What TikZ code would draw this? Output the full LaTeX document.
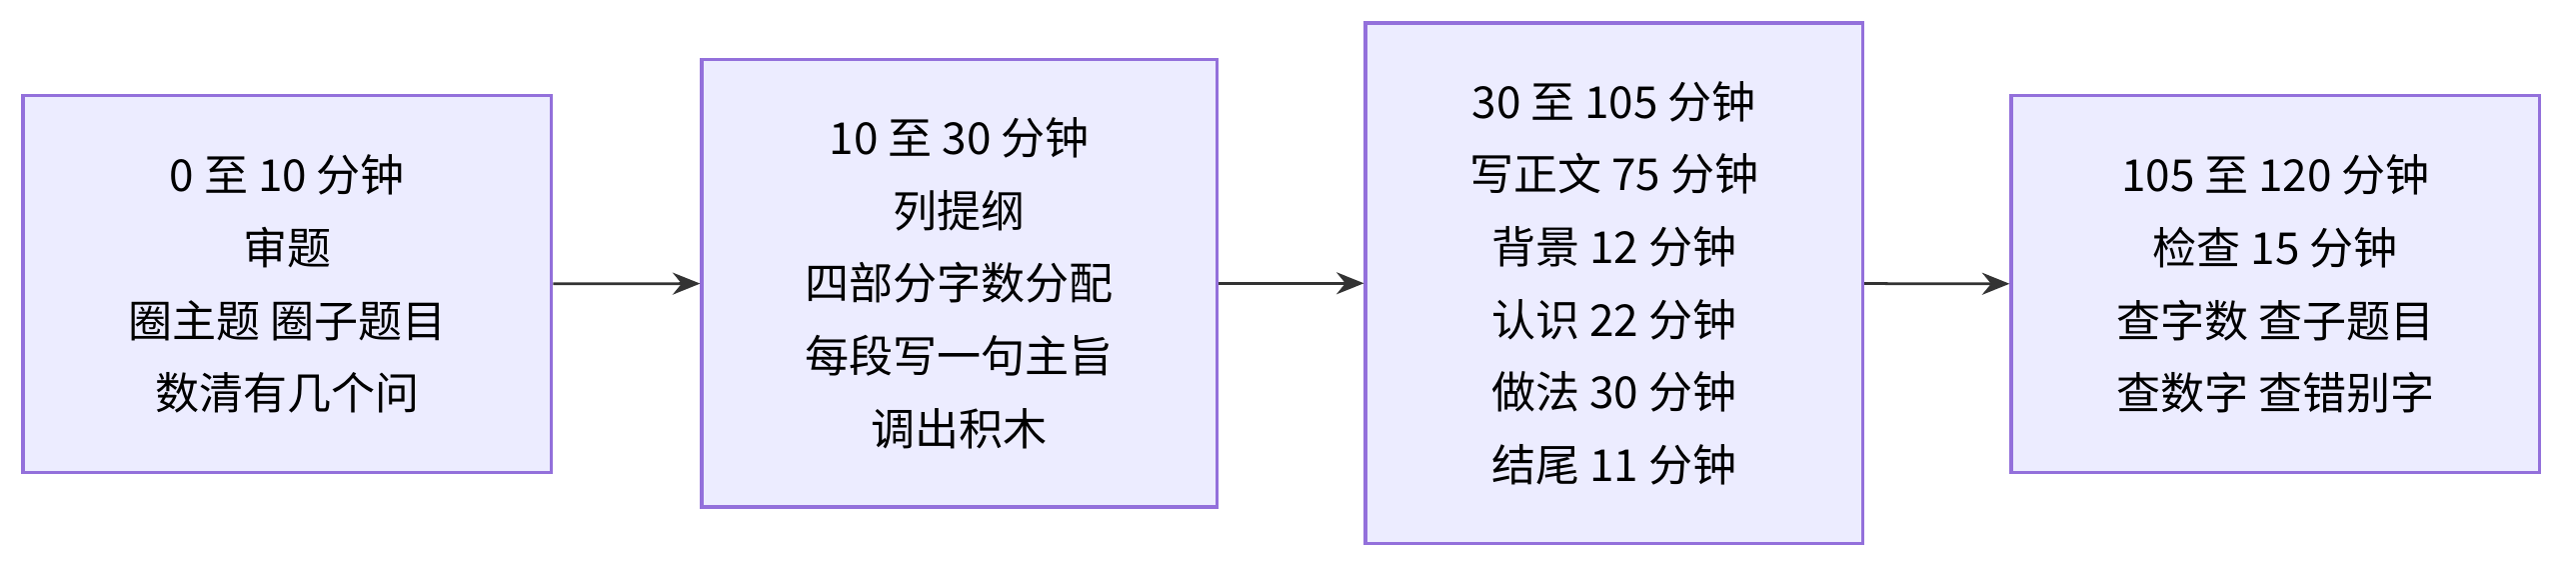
\documentclass[tikz,border=0pt]{standalone}
\usepackage{fontspec}
\setmainfont{Noto Sans CJK SC}
\usetikzlibrary{arrows.meta,positioning}
\definecolor{boxfill}{HTML}{ECECFF}
\definecolor{boxline}{HTML}{9370DB}
\definecolor{edgeline}{HTML}{333333}
\tikzset{
  stage/.style={draw=boxline,fill=boxfill,line width=0.6pt,align=center,
    font=\fontsize{8pt}{13.2pt}\selectfont,inner sep=0pt},
  flow/.style={draw=edgeline,line width=0.5pt,-{Stealth[length=5pt,width=4pt]}}
}
\begin{document}
\begin{tikzpicture}[x=0.3pt,y=-0.3pt]
  \useasboundingbox (0,0) rectangle (1560,345);
  %stages
    \node[stage,minimum width=96pt,minimum height=68.4pt] (s1) at (174,172)
      {0 至 10 分钟\\审题\\圈主题 圈子题目\\数清有几个问};
    \node[stage,minimum width=93.6pt,minimum height=81.3pt] (s2) at (581,171.5)
      {10 至 30 分钟\\列提纲\\四部分字数分配\\每段写一句主旨\\调出积木};
    \node[stage,minimum width=90.3pt,minimum height=94.5pt] (s3) at (977.5,171.5)
      {30 至 105 分钟\\写正文 75 分钟\\背景 12 分钟\\认识 22 分钟\\做法 30 分钟\\结尾 11 分钟};
    \node[stage,minimum width=96pt,minimum height=68.4pt] (s4) at (1378,172)
      {105 至 120 分钟\\检查 15 分钟\\查字数 查子题目\\查数字 查错别字};
  %arrows
    \draw[flow] (s1) -- (s2);
    \draw[flow] (s2) -- (s3);
    \draw[flow] (s3) -- (s4);
\end{tikzpicture}
\end{document}
